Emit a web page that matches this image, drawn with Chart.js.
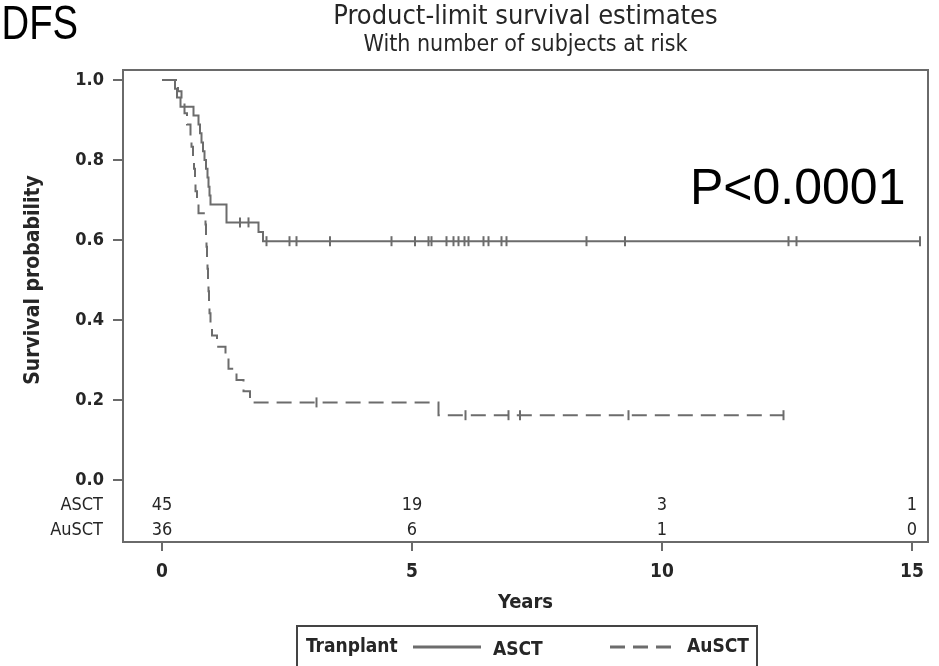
<!DOCTYPE html>
<html>
<head>
<meta charset="utf-8">
<title>DFS</title>
<script src="https://cdn.jsdelivr.net/npm/chart.js@4.4.0/dist/chart.umd.min.js"></script>
<style>
  html, body { margin: 0; padding: 0; background: #fff; }
  canvas { display: block; }
</style>
</head>
<body>
<canvas id="km" width="939" height="666"></canvas>
<script>
// Product-limit (Kaplan-Meier) steps: time in years, survival after the drop
const asctTimes = [0, 0.26, 0.30, 0.37, 0.63, 0.73, 0.76, 0.79, 0.82, 0.85, 0.88, 0.91, 0.93, 0.95, 0.97, 1.29, 1.93, 2.02, 15.16];
const asctSurv  = [1, 0.978, 0.956, 0.933, 0.911, 0.889, 0.867, 0.844, 0.822, 0.8, 0.778, 0.756, 0.733, 0.711, 0.689, 0.644, 0.620, 0.597, 0.597];
const asctCensored = [1.56, 1.73, 2.09, 2.55, 2.69, 3.36, 4.59, 5.06, 5.33, 5.39, 5.69, 5.83, 5.93, 6.05, 6.13, 6.43, 6.53, 6.79, 6.89, 8.49, 9.26, 12.53, 12.69, 15.16];

const ausctTimes = [0, 0.32, 0.39, 0.45, 0.50, 0.57, 0.59, 0.62, 0.64, 0.66, 0.67, 0.70, 0.73, 0.87, 0.88, 0.89, 0.90, 0.91, 0.92, 0.93, 0.94, 0.95, 0.97, 1.00, 1.10, 1.27, 1.33, 1.49, 1.63, 1.76, 5.53, 12.43];
const ausctSurv  = [1, 0.972, 0.944, 0.917, 0.889, 0.861, 0.833, 0.806, 0.778, 0.75, 0.722, 0.694, 0.667, 0.639, 0.611, 0.583, 0.556, 0.528, 0.5, 0.472, 0.444, 0.417, 0.389, 0.361, 0.333, 0.306, 0.278, 0.25, 0.222, 0.194, 0.162, 0.162];
const ausctCensored = [3.09, 6.07, 6.93, 7.16, 9.33, 12.43];

const xTicks = [0, 5, 10, 15];
const yTicks = [0, 0.2, 0.4, 0.6, 0.8, 1.0];

// number of subjects at risk at each x tick
const riskGroups = ['ASCT', 'AuSCT'];
const asctAtRisk = [45, 19, 3, 1];
const ausctAtRisk = [36, 6, 1, 0];

const LINE = '#6c6c6c';
const TEXT = '#262626';
const FONT = '"DejaVu Sans Condensed", "Liberation Sans", Arial, sans-serif';
const SANS = '"Liberation Sans", Arial, sans-serif';

function survivalAt(times, surv, t) {
    let s = surv[0];
    for (let i = 0; i < times.length; i++) {
        if (times[i] <= t) s = surv[i];
    }
    return s;
}

function toPoints(times, values) {
    return times.map((t, i) => ({ x: t, y: values[i] }));
}

function censorPoints(times, surv, censored) {
    return censored.map(t => ({ x: t, y: survivalAt(times, surv, t) }));
}

// frame, at-risk table, titles, annotation and legend box
const kmDecor = {
    id: 'kmDecor',
    afterDraw(chart) {
        const { ctx, chartArea, scales } = chart;
        const xs = scales.x;
        const ys = scales.y;
        ctx.save();

        // plot frame
        ctx.strokeStyle = '#6a6a6a';
        ctx.lineWidth = 2;
        ctx.strokeRect(chartArea.left, chartArea.top, chartArea.right - chartArea.left, chartArea.bottom - chartArea.top);

        // at-risk rows
        const rows = [asctAtRisk, ausctAtRisk];
        const rowY = [505, 530];
        ctx.fillStyle = TEXT;
        ctx.textBaseline = 'middle';
        ctx.font = '18px ' + FONT;
        rows.forEach((row, r) => {
            ctx.textAlign = 'right';
            ctx.fillText(riskGroups[r], 103, rowY[r]);
            ctx.textAlign = 'center';
            row.forEach((n, i) => {
                ctx.fillText(String(n), xs.getPixelForValue(xTicks[i]), rowY[r]);
            });
        });

        // y axis title, centred on the 0..1 range
        const yMid = (ys.getPixelForValue(0) + ys.getPixelForValue(1)) / 2;
        ctx.save();
        ctx.translate(34, yMid);
        ctx.rotate(-Math.PI / 2);
        ctx.textAlign = 'center';
        ctx.font = 'bold 21px ' + FONT;
        ctx.fillText('Survival probability', 0, 0);
        ctx.restore();

        // headings
        const midX = (chartArea.left + chartArea.right) / 2;
        ctx.textAlign = 'center';
        ctx.font = '27px ' + FONT;
        ctx.fillText('Product-limit survival estimates', midX, 17);
        ctx.font = '23px ' + FONT;
        ctx.fillText('With number of subjects at risk', midX, 45);

        ctx.fillStyle = '#000';
        ctx.textAlign = 'left';
        ctx.textBaseline = 'alphabetic';
        ctx.save();
        ctx.scale(0.78, 1);
        ctx.font = '49px ' + SANS;
        ctx.fillText('DFS', 2, 39);
        ctx.restore();
        ctx.font = '50px ' + SANS;
        ctx.fillText('P<0.0001', 690, 204);

        // legend box
        const lgTop = 626;
        ctx.strokeStyle = '#444';
        ctx.lineWidth = 2;
        ctx.strokeRect(297, lgTop, 460, 60);
        ctx.fillStyle = TEXT;
        ctx.textBaseline = 'middle';
        ctx.font = 'bold 19px ' + FONT;
        ctx.fillText('Tranplant', 306, 647);
        ctx.fillText('ASCT', 493, 650);
        ctx.fillText('AuSCT', 687, 647);
        chart.data.datasets.slice(0, 2).forEach((ds, i) => {
            const x0 = i === 0 ? 413 : 610;
            ctx.strokeStyle = ds.borderColor;
            ctx.lineWidth = 3;
            ctx.setLineDash(ds.borderDash || []);
            ctx.beginPath();
            ctx.moveTo(x0, 647);
            ctx.lineTo(x0 + 68, 647);
            ctx.stroke();
        });
        ctx.setLineDash([]);
        ctx.restore();
    }
};

const ctx = document.getElementById('km').getContext('2d');

new Chart(ctx, {
    type: 'line',
    data: {
        datasets: [
            {
                label: 'ASCT',
                data: toPoints(asctTimes, asctSurv),
                stepped: 'before',
                borderColor: LINE,
                borderWidth: 2,
                pointRadius: 0,
                fill: false
            },
            {
                label: 'AuSCT',
                data: toPoints(ausctTimes, ausctSurv),
                stepped: 'before',
                borderColor: LINE,
                borderWidth: 2,
                borderDash: [15, 8],
                pointRadius: 0,
                fill: false
            },
            {
                label: 'ASCT censored',
                data: censorPoints(asctTimes, asctSurv, asctCensored),
                showLine: false,
                pointStyle: 'line',
                rotation: 90,
                pointRadius: 5,
                borderColor: LINE,
                pointBorderWidth: 2
            },
            {
                label: 'AuSCT censored',
                data: censorPoints(ausctTimes, ausctSurv, ausctCensored),
                showLine: false,
                pointStyle: 'line',
                rotation: 90,
                pointRadius: 5,
                borderColor: LINE,
                pointBorderWidth: 2
            }
        ]
    },
    options: {
        responsive: false,
        animation: false,
        devicePixelRatio: 1,
        layout: { padding: { left: 0, top: 70, right: 11, bottom: 0 } },
        plugins: {
            legend: { display: false },
            tooltip: { enabled: false }
        },
        scales: {
            x: {
                type: 'linear',
                min: -0.78,
                max: 15.32,
                afterBuildTicks: scale => { scale.ticks = xTicks.map(v => ({ value: v })); },
                afterFit: scale => { scale.height = 124; },
                border: { display: false },
                grid: { drawOnChartArea: false, drawTicks: true, tickLength: 9, color: '#6a6a6a', lineWidth: 2 },
                ticks: { color: TEXT, padding: 10, font: { family: FONT, size: 19, weight: 'bold' } },
                title: {
                    display: true,
                    text: 'Years',
                    color: TEXT,
                    font: { family: FONT, size: 20, weight: 'bold' },
                    padding: { top: 0, bottom: 51 }
                }
            },
            y: {
                min: -0.155,
                max: 1.025,
                afterBuildTicks: scale => { scale.ticks = yTicks.map(v => ({ value: v })); },
                afterFit: scale => { scale.width = 123; },
                border: { display: false },
                grid: { drawOnChartArea: false, drawTicks: true, tickLength: 10, color: '#6a6a6a', lineWidth: 2 },
                ticks: {
                    color: TEXT,
                    padding: 9,
                    font: { family: FONT, size: 18, weight: 'bold' },
                    callback: v => v.toFixed(1)
                }
            }
        }
    },
    plugins: [kmDecor]
});
</script>
</body>
</html>
